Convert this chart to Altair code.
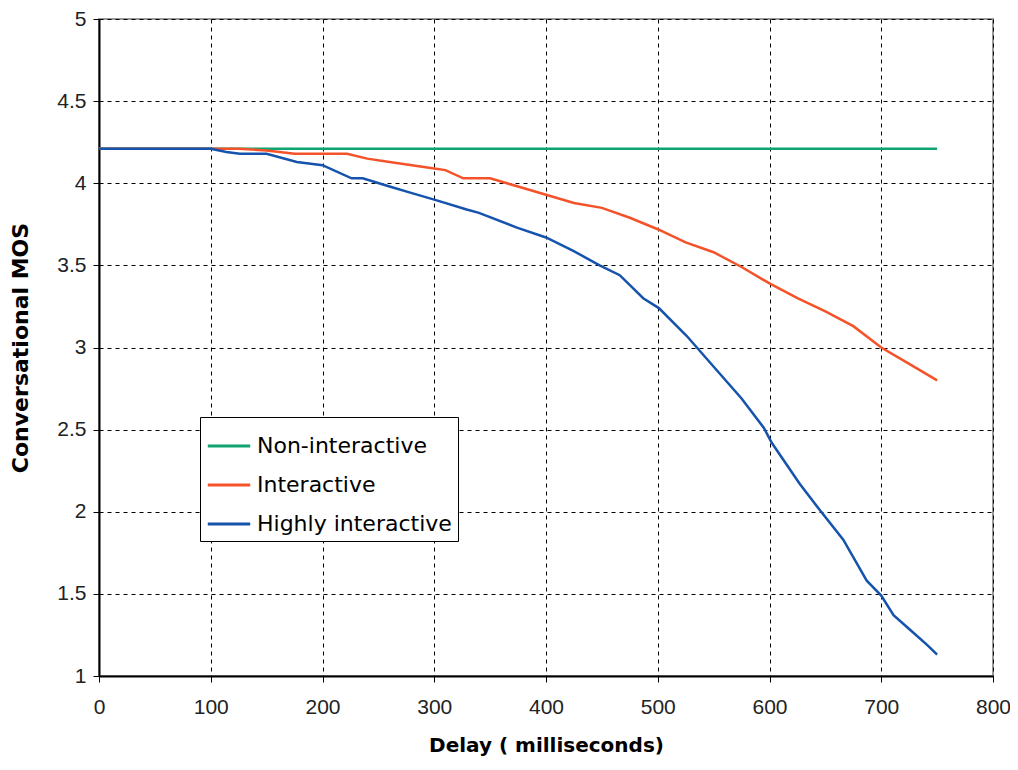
import altair as alt
import pandas as pd

series_names = ["Non-interactive", "Interactive", "Highly interactive"]
colors = ["#0fa36f", "#f4532a", "#1553ad"]

non_x = [0, 100, 200, 300, 400, 500, 600, 700, 750]
non_y = [4.21, 4.21, 4.21, 4.21, 4.21, 4.21, 4.21, 4.21, 4.21]

int_x = [0, 100, 125, 150, 175, 200, 222, 240, 260, 280, 300, 310, 326, 350, 375,
         400, 425, 450, 475, 500, 525, 550, 575, 600, 625, 650, 675, 700, 725, 750]
int_y = [4.21, 4.21, 4.21, 4.20, 4.18, 4.18, 4.18, 4.15, 4.13, 4.11, 4.09, 4.08, 4.03, 4.03, 3.98,
         3.93, 3.88, 3.85, 3.79, 3.72, 3.64, 3.58, 3.49, 3.39, 3.30, 3.22, 3.13, 3.00, 2.90, 2.80]

hi_x = [0, 100, 114, 126, 150, 177, 200, 226, 236, 260, 280, 300, 329, 340, 374, 400,
        424, 448, 466, 487, 501, 526, 553, 575, 595, 602, 627, 645, 666, 687, 700, 711, 726, 741, 750]
hi_y = [4.21, 4.21, 4.19, 4.18, 4.18, 4.13, 4.11, 4.03, 4.03, 3.98, 3.94, 3.90, 3.84, 3.82, 3.73, 3.67,
        3.59, 3.50, 3.44, 3.30, 3.24, 3.07, 2.86, 2.69, 2.51, 2.42, 2.17, 2.01, 1.83, 1.58, 1.49, 1.37, 1.28, 1.19, 1.13]

x_ticks = [0, 100, 200, 300, 400, 500, 600, 700, 800]
y_ticks = [1, 1.5, 2, 2.5, 3, 3.5, 4, 4.5, 5]

rows = []
for name, xs, ys in zip(series_names, [non_x, int_x, hi_x], [non_y, int_y, hi_y]):
    for i, (a, b) in enumerate(zip(xs, ys)):
        rows.append({"series": name, "delay": a, "mos": b, "order": i})
df = pd.DataFrame(rows)

font = "Liberation Sans"
wide = "DejaVu Sans"

chart = alt.Chart(df).mark_line(strokeWidth=2.5).encode(
    x=alt.X("delay:Q", scale=alt.Scale(domain=[0, 800], nice=False),
            axis=alt.Axis(values=x_ticks, title="Delay ( milliseconds)", format="d",
                          titleFontSize=20, titleFontWeight="bold", titlePadding=18,
                          titleFont=wide,
                          labelFontSize=21, labelPadding=14, labelFlush=False)),
    y=alt.Y("mos:Q", scale=alt.Scale(domain=[1, 5], nice=False, zero=False),
            axis=alt.Axis(values=y_ticks, title="Conversational MOS",
                          labelExpr="datum.value + ''",
                          titleFontSize=22, titleFontWeight="bold", titlePadding=24,
                          titleFont=wide,
                          labelFontSize=21, labelPadding=7, labelFlush=False)),
    color=alt.Color("series:N", scale=alt.Scale(domain=series_names, range=colors),
                    legend=alt.Legend(title=None, orient="none", legendX=101, legendY=398,
                                      symbolType="stroke", symbolStrokeWidth=3, symbolSize=1800,
                                      labelFontSize=22, labelFont=wide, labelLimit=400,
                                      rowPadding=5, padding=6,
                                      strokeColor="black", fillColor="white",
                                      labelColor="black", labelOffset=5)),
    order="order:Q",
).properties(
    width=894, height=657,
    padding={"left": 91, "top": 11, "right": 17, "bottom": 94},
    autosize=alt.AutoSizeParams(type="none"),
    background="white",
).configure_axis(
    gridColor="black", gridDash=[4, 4], gridWidth=1, gridOpacity=1,
    domainColor="black", domainWidth=2, tickColor="black", tickSize=6,
    labelColor="#222", titleColor="black", labelFont=font,
).configure_view(
    stroke="#999", strokeWidth=2
)

chart.save("out.html", embed_options={"renderer": "svg", "actions": False})
